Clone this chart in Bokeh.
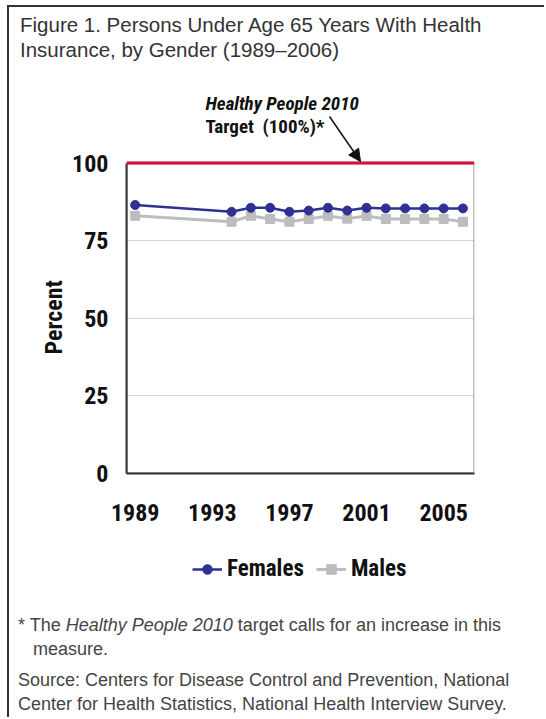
from bokeh.plotting import figure
from bokeh.layouts import column
from bokeh.models import (Range1d, FixedTicker, Span, Label, Arrow, NormalHead,
                          Legend, LegendItem, Div, Title, BoxAnnotation)
from bokeh.embed import file_html
from bokeh.resources import INLINE

# ---------------- data ----------------
years = [1989, 1994, 1995, 1996, 1997, 1998, 1999, 2000, 2001, 2002, 2003, 2004, 2005, 2006]
females = [86.5, 84.3, 85.6, 85.6, 84.3, 84.7, 85.6, 84.7, 85.6, 85.4, 85.4, 85.4, 85.4, 85.4]
males = [83.0, 81.1, 83.0, 82.0, 81.1, 82.0, 83.0, 82.1, 83.0, 82.0, 82.0, 82.0, 82.0, 81.1]
target = 100
x_ticks = [1989, 1993, 1997, 2001, 2005]
y_ticks = [0, 25, 50, 75, 100]
grid_ticks = [25, 50, 75]
series_names = ["Females", "Males"]

NARROW = "'Liberation Sans Narrow', 'Roboto Condensed', 'DejaVu Sans Condensed', 'Liberation Sans', sans-serif"
SANS = "'Liberation Sans', Arial, sans-serif"
FEM_C = "#2E3192"
MAL_C = "#BBBDBF"
RED = "#D2143A"
DARK = "#333333"
TXT = "#111111"

X0, X1 = 1988.55, 2006.6
FW = 535

# ---------------- main chart ----------------
p = figure(width=FW, height=465, output_backend="svg", toolbar_location=None,
           x_range=Range1d(X0, X1), y_range=Range1d(0, 125),
           min_border_left=117, min_border_right=70,
           min_border_top=10, min_border_bottom=67,
           background_fill_color="white", border_fill_color="white", margin=0)

p.outline_line_color = None
p.xgrid.visible = False
p.ygrid.grid_line_color = "#D4D4D4"
p.ygrid.grid_line_width = 1
p.ygrid.ticker = FixedTicker(ticks=grid_ticks)

for ax in (p.xaxis[0], p.yaxis[0]):
    ax.major_tick_in = 0
    ax.major_tick_out = 0
    ax.minor_tick_in = 0
    ax.minor_tick_out = 0
    ax.axis_line_color = DARK
    ax.axis_line_width = 2
    ax.major_label_text_font = NARROW
    ax.major_label_text_font_size = "24px"
    ax.major_label_text_font_style = "bold"
    ax.major_label_text_color = TXT

p.xaxis.ticker = FixedTicker(ticks=x_ticks)
p.xaxis.major_label_standoff = 30
p.yaxis.ticker = FixedTicker(ticks=y_ticks)
p.yaxis.bounds = (0, target)
p.yaxis.major_label_standoff = 18

# y axis title, placed so that it is centred on the 0-100 part of the axis
p.add_layout(Title(text="Percent", align="left", offset=119, standoff=3,
                   text_font=NARROW, text_font_size="24px", text_font_style="bold",
                   text_color=TXT), "left")

# right / bottom frame of the 0-100 box, then the target line on top
p.add_layout(BoxAnnotation(left=X0, right=X1, bottom=0, top=target,
                           fill_alpha=0, line_color=DARK, line_width=3))
p.add_layout(Span(location=target, dimension="width", line_color=RED, line_width=3))

# series
ml = p.line(years, males, line_color=MAL_C, line_width=3)
ms = p.scatter(years, males, marker="square", size=9, fill_color=MAL_C, line_color=MAL_C)
fl = p.line(years, females, line_color=FEM_C, line_width=2.5)
fs = p.scatter(years, females, marker="circle", size=9, fill_color=FEM_C, line_color=FEM_C)

# annotation (inside the frame, above the 100% line)
p.add_layout(Label(x=79, y=370, x_units="screen", y_units="screen", text="Healthy People 2010",
                   text_font=NARROW, text_font_size="19px", text_font_style="bold italic",
                   text_color=TXT, text_baseline="alphabetic"))
p.add_layout(Label(x=79, y=347, x_units="screen", y_units="screen", text="Target\u00a0 (100%)*",
                   text_font=NARROW, text_font_size="19px", text_font_style="bold",
                   text_color=TXT, text_baseline="alphabetic"))
p.add_layout(Arrow(end=NormalHead(size=12, fill_color=TXT, line_color=TXT),
                   x_start=203, y_start=357, x_end=234, y_end=312,
                   start_units="screen", end_units="screen",
                   line_color=TXT, line_width=1.5))

# ---------------- legend strip (its frame is aligned with the chart's frame) ----------------
lg = figure(width=FW, height=60, output_backend="svg", toolbar_location=None,
            x_range=Range1d(0, 1), y_range=Range1d(0, 1),
            x_axis_type=None, y_axis_type=None, min_border=0,
            outline_line_color=None, background_fill_color="white",
            border_fill_color="white", margin=0)
lg.grid.visible = False
lml = lg.line(years, males, line_color=MAL_C, line_width=3)
lms = lg.scatter(years, males, marker="square", size=7, fill_color=MAL_C, line_color=MAL_C)
lfl = lg.line(years, females, line_color=FEM_C, line_width=2.5)
lfs = lg.scatter(years, females, marker="circle", size=7, fill_color=FEM_C, line_color=FEM_C)
legend = Legend(items=[LegendItem(label=series_names[0], renderers=[lfl, lfs]),
                       LegendItem(label=series_names[1], renderers=[lml, lms])],
                orientation="horizontal", location=(66, 18),
                glyph_width=30, glyph_height=24, label_height=24,
                label_standoff=5, spacing=12,
                padding=0, margin=0, border_line_alpha=0, background_fill_alpha=0,
                label_text_font=NARROW, label_text_font_size="23px",
                label_text_font_style="bold", label_text_color=TXT)
lg.add_layout(legend)

# ---------------- title and notes ----------------
title_html = (
    '<div style="padding:5px 0 0 11px; font-family:%s; font-size:20.5px; line-height:25px; '
    'color:%s; white-space:nowrap;">Figure 1. Persons Under Age 65 Years With Health<br>'
    'Insurance, by Gender (1989\u20132006)</div>' % (SANS.replace("'", ""), DARK)
)
title_div = Div(text=title_html, width=FW, height=68, margin=0)

foot_html = (
    '<div style="padding:13px 0 0 9px; font-family:%s; font-size:18px; line-height:24px; '
    'color:#444444; white-space:nowrap;">'
    '<div>* The <i>Healthy People 2010</i> target calls for an increase in this</div>'
    '<div style="padding-left:15px;">measure.</div>'
    '<div style="margin-top:7px;">Source: Centers for Disease Control and Prevention, National<br>'
    'Center for Health Statistics, National Health Interview Survey.</div></div>'
    % SANS.replace("'", "")
)
foot_div = Div(text=foot_html, width=FW, height=117, margin=0)

layout = column(title_div, p, lg, foot_div, margin=(5, 0, 0, 7), spacing=0,
                styles={"border-left": "2px solid #333333", "border-top": "2px solid #333333"})

open("out.html", "w").write(file_html(layout, INLINE))
